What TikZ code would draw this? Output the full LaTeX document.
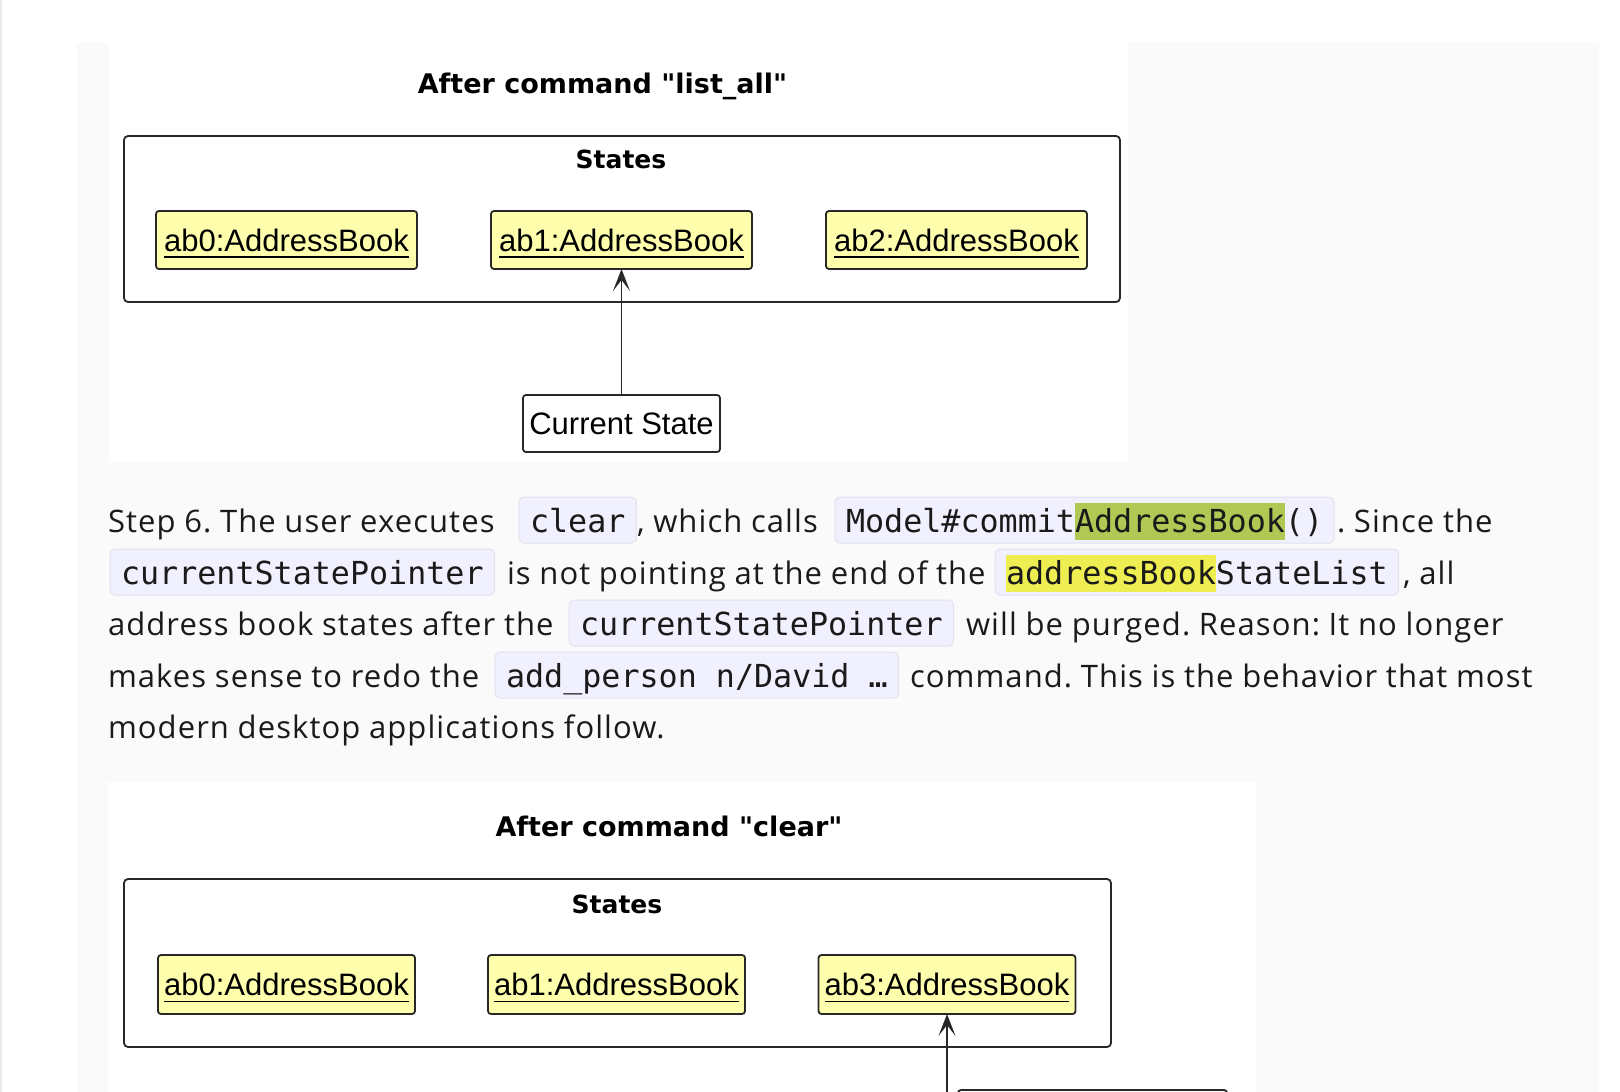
\documentclass[tikz,border=0pt]{standalone}
\usepackage{fontspec}
\setmainfont{Open Sans}
\newfontfamily\bodyfont[LetterSpace=3.5,WordSpace=0.95]{Open Sans}
\newfontfamily\umlfont{Liberation Sans}
\newfontfamily\titlefont{DejaVu Sans}
\newfontfamily\codefont{DejaVu Sans Mono}
\usetikzlibrary{arrows.meta}
\frenchspacing
\definecolor{panel}{RGB}{250,250,250}
\definecolor{objfill}{RGB}{254,254,172}
\definecolor{codefill}{RGB}{240,240,254}
\definecolor{codeline}{RGB}{226,226,238}
\definecolor{hlgreen}{RGB}{177,200,84}
\definecolor{hlyellow}{RGB}{238,238,82}
\definecolor{umlline}{RGB}{40,40,40}
\definecolor{bodytext}{RGB}{26,26,26}
\newcommand\hlt[2]{{\setlength{\fboxsep}{0pt}\colorbox{#1}{\rule[-7.5pt]{0pt}{37pt}#2}}}
\newcommand\objul[1]{\setbox0\hbox{#1}\rlap{\rule[-6.5pt]{\wd0}{1.7pt}}\box0}
\begin{document}
\begin{tikzpicture}[x=1pt,y=-1pt,
  objbox/.style={draw=umlline, line width=1.8pt, fill=objfill, rounded corners=3pt,
    inner sep=0pt, outer sep=0pt, minimum height=58pt, text height=22.5pt, text depth=0pt,
    font=\umlfont\fontsize{31}{36}\selectfont},
  curbox/.style={objbox, fill=white},
  group/.style={draw=umlline, line width=1.8pt, rounded corners=4pt, inner sep=0pt, outer sep=0pt},
  ttl/.style={anchor=base, inner sep=0pt, font=\titlefont\bfseries\fontsize{27}{32}\selectfont},
  grplabel/.style={anchor=base, inner sep=0pt, font=\titlefont\bfseries\fontsize{25}{30}\selectfont},
  link/.style={draw=umlline, line width=1.5pt, -{Stealth[length=22pt,width=17pt,inset=11pt]}},
  body/.style={anchor=base west, inner sep=0pt, outer sep=0pt, text=bodytext,
    font=\bodyfont\fontsize{31}{38}\selectfont},
  code/.style={anchor=base west, draw=codeline, line width=1pt, fill=codefill, rounded corners=5pt,
    inner xsep=11pt, inner ysep=0pt, outer sep=0pt, text height=35pt, text depth=11pt,
    text=bodytext, font=\codefont\fontsize{31.7}{38}\selectfont}]
\useasboundingbox (0,0) rectangle (1620,1092);
\fill[white] (0,0) rectangle (1620,1092);
\draw[black!8, line width=1.5pt] (0.75,0) -- (0.75,1092);
\fill[panel] (77,43) rectangle (1599,1092);
\fill[white] (109,43) rectangle (1128,462);
\fill[white] (108,782) rectangle (1256,1092);

% ---------- diagram 1 ----------
\node[ttl] (title1) at (602.5,93) {After command "list\_all"};
\node[group, minimum width=996pt, minimum height=166pt] (states1) at (622,219) {};
\node[grplabel] (slabel1) at (621,168) {States};
\node[objbox, minimum width=261pt] (ab0a) at (286.5,240) {\objul{ab0:AddressBook}};
\node[objbox, minimum width=261pt] (ab1a) at (621.5,240) {\objul{ab1:AddressBook}};
\node[objbox, minimum width=261pt] (ab2a) at (956.5,240) {\objul{ab2:AddressBook}};
\node[curbox, minimum width=197pt, minimum height=57pt] (cur1) at (621.5,423.5) {Current State};
\draw[link] (cur1.north) -- (ab1a.south);

% ---------- paragraph ----------
\node[body] (l1a) at (108,532) {Step 6. The user executes};
\node[code] (l1b) at (519,532) {clear};
\node[body] (l1c) at (637,532) {, which calls};
\node[code] (l1d) at (835,532) {Model\#commit\hlt{hlgreen}{AddressBook}()};
\node[body] (l1e) at (1337,532) {. Since the};

\node[code] (l2a) at (110,584) {currentStatePointer};
\node[body] (l2b) at (507,584) {is not pointing at the end of the};
\node[code] (l2c) at (995,584) {\hlt{hlyellow}{addressBook}StateList};
\node[body] (l2d) at (1403,584) {, all};

\node[body] (l3a) at (108,635) {address book states after the};
\node[code] (l3b) at (569,635) {currentStatePointer};
\node[body] (l3c) at (966,635) {will be purged. Reason: It no longer};

\node[body] (l4a) at (108,687) {makes sense to redo the};
\node[code] (l4b) at (495,687) {add\_person n/David …};
\node[body] (l4c) at (910,687) {command. This is the behavior that most};

\node[body] (l5a) at (108,738) {modern desktop applications follow.};

% ---------- diagram 2 ----------
\node[ttl] (title2) at (669,836) {After command "clear"};
\node[group, minimum width=987pt, minimum height=168pt] (states2) at (617.5,963) {};
\node[grplabel] (slabel2) at (617,913) {States};
\node[objbox, minimum width=257pt, minimum height=59pt] (ab0b) at (286.5,984.5) {\objul{ab0:AddressBook}};
\node[objbox, minimum width=257pt, minimum height=59pt] (ab1b) at (616.5,984.5) {\objul{ab1:AddressBook}};
\node[objbox, minimum width=257pt, minimum height=59pt] (ab3b) at (947,984.5) {\objul{ab3:AddressBook}};
\node[curbox, minimum width=269pt, minimum height=57pt] (cur2) at (1092.5,1118.5) {};
\coordinate (tail2) at (947,1100);
\draw[link] (tail2) -- (ab3b.south);
\end{tikzpicture}
\end{document}
